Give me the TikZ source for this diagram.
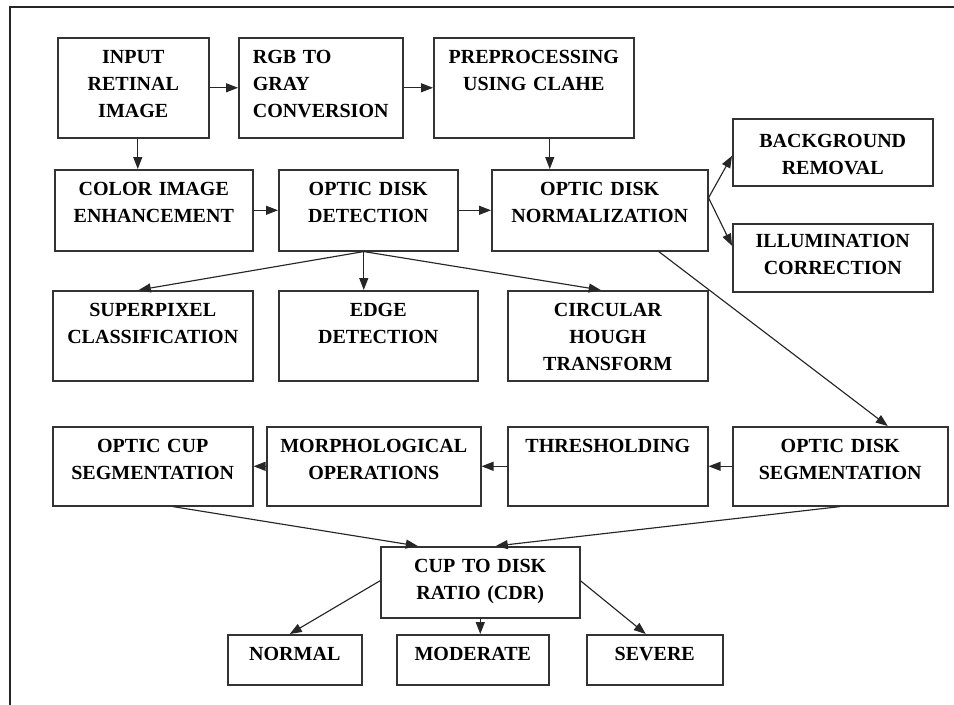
\documentclass[tikz,border=0pt]{standalone}
\usepackage{fontspec}
\setmainfont{Liberation Serif}
\usetikzlibrary{arrows.meta}

\begin{document}
\begin{tikzpicture}[
  x=0.02cm, y=-0.02cm,
  box/.style={draw=black!80,line width=0.9pt,inner sep=0pt,anchor=north west,
    align=center,text height=0.52cm,text=black,
    font=\fontsize{11.4}{15.4}\selectfont\bfseries},
  conn/.style={-{Triangle[length=2.4mm,width=1.8mm]},draw=black!85,line width=0.65pt},
  frame/.style={draw=black!85,line width=1pt},
]

\useasboundingbox (0,0) rectangle (954,704);
\draw[frame] (10,730) |- (980,7);

\node[box,text width=3.02cm,text depth=1.48cm] (inp) at (57,37) {INPUT\\RETINAL\\IMAGE};
\node[box,align=left,inner xsep=0.28cm,text width=2.72cm,text depth=1.48cm] (rgb) at (238,37) {RGB TO\\GRAY\\CONVERSION};
\node[box,text width=4.00cm,text depth=1.48cm] (pre) at (433,37) {PREPROCESSING\\USING CLAHE};

\node[box,text width=3.96cm,text depth=1.10cm] (col) at (54,169) {COLOR IMAGE\\ENHANCEMENT};
\node[box,text width=3.58cm,text depth=1.10cm] (odd) at (278,169) {OPTIC DISK\\DETECTION};
\node[box,text width=4.32cm,text depth=1.10cm] (odn) at (491,169) {OPTIC DISK\\NORMALIZATION};
\node[box,text width=4.00cm,text height=0.58cm,text depth=0.76cm] (bg) at (732,118) {BACKGROUND\\REMOVAL};
\node[box,text width=4.00cm,text height=0.48cm,text depth=0.88cm] (ill) at (732,223) {ILLUMINATION\\CORRECTION};

\node[box,text width=4.00cm,text depth=1.28cm] (sup) at (52,290) {SUPERPIXEL\\CLASSIFICATION};
\node[box,text width=3.98cm,text depth=1.28cm] (edg) at (278,290) {EDGE\\DETECTION};
\node[box,text width=4.00cm,text depth=1.28cm] (cir) at (507,290) {CIRCULAR\\HOUGH\\TRANSFORM};

\node[box,text width=4.00cm,text depth=1.06cm] (cup) at (52,426) {OPTIC CUP\\SEGMENTATION};
\node[box,text width=4.28cm,text depth=1.06cm] (mor) at (266,426) {MORPHOLOGICAL\\OPERATIONS};
\node[box,text width=4.00cm,text depth=1.06cm] (thr) at (507,426) {THRESHOLDING};
\node[box,text width=4.30cm,text depth=1.06cm] (ods) at (732,426) {OPTIC DISK\\SEGMENTATION};

\node[box,text width=3.98cm,text depth=0.90cm] (cdr) at (380,546) {CUP TO DISK\\RATIO (CDR)};
\node[box,text width=2.68cm,text depth=0.48cm] (nor) at (227,634) {NORMAL};
\node[box,text width=3.04cm,text depth=0.48cm] (mod) at (396,634) {MODERATE};
\node[box,text width=2.72cm,text depth=0.48cm] (sev) at (586,634) {SEVERE};

\draw[conn] (inp.east) -- (rgb.west);
\draw[conn] (rgb.east) -- (pre.west);
\draw[conn] ([xshift=0.09cm]inp.south) -- ([xshift=0.09cm]inp.south |- col.north);
\draw[conn] ([xshift=0.32cm]pre.south) -- ([xshift=0.32cm]pre.south |- odn.north);
\draw[conn] (col.east) -- (odd.west);
\draw[conn] (odd.east) -- (odn.west);
\draw[conn] ([yshift=0.25cm]odn.east) -- ([yshift=-0.07cm]bg.west);
\draw[conn] ([yshift=0.25cm]odn.east) -- ([yshift=0.24cm]ill.west);

\coordinate (split) at ([xshift=-0.09cm]odd.south);
\draw[conn] (split) -- ([xshift=-0.28cm]sup.north);
\draw[conn] (split) -- (split |- edg.north);
\draw[conn] (split) -- ([xshift=-0.14cm]cir.north);

\draw[conn] ([xshift=1.18cm]odn.south) -- ([xshift=0.95cm]ods.north);
\draw[conn] (ods.west) -- (thr.east);
\draw[conn] (thr.west) -- (mor.east);
\draw[conn] (mor.west) -- (cup.east);
\draw[conn] ([xshift=0.4cm]cup.south) -- ([xshift=-1.25cm]cdr.north);
\draw[conn] (ods.south) -- ([xshift=0.31cm]cdr.north);

\draw[conn] ([yshift=0.03cm]cdr.west) -- ([xshift=-0.1cm]nor.north);
\draw[conn] (cdr.south) -- (cdr.south |- mod.north);
\draw[conn] ([yshift=0.03cm]cdr.east) -- ([xshift=-0.18cm]sev.north);

\end{tikzpicture}
\end{document}
